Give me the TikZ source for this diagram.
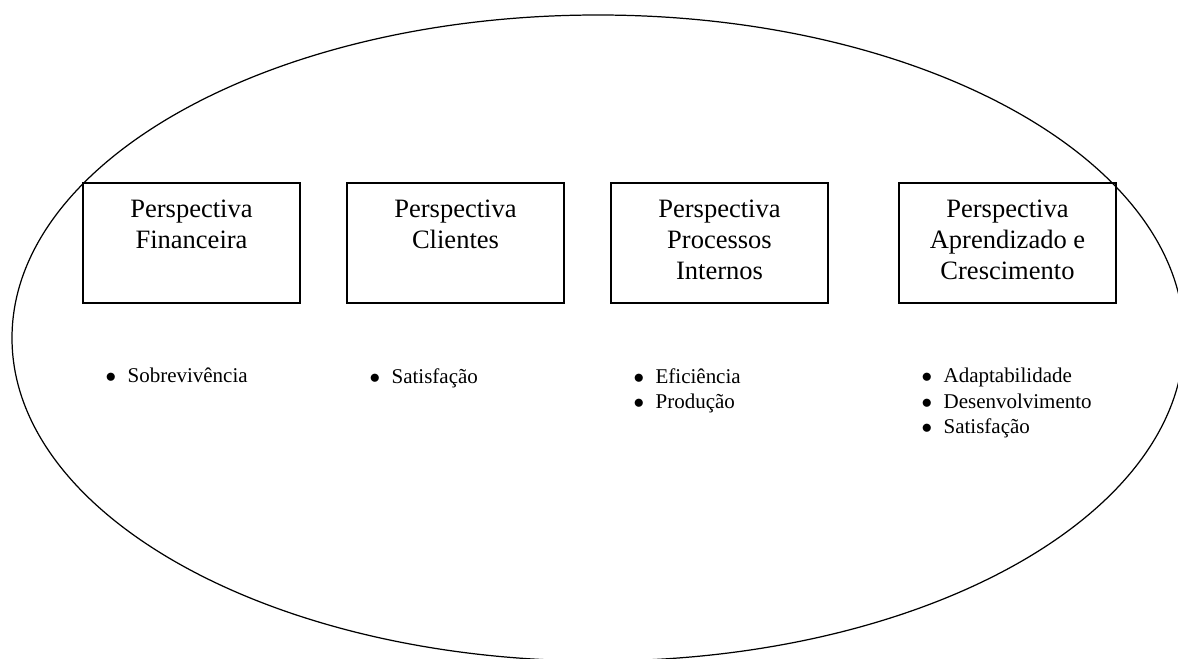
\documentclass[tikz,border=0pt]{standalone}
\usepackage{fontspec}
\setmainfont{Liberation Serif}
\newcommand{\bitem}[1]{\makebox[0.44cm][l]{$\bullet$}#1}
\begin{document}
\begin{tikzpicture}[x=0.02cm, y=-0.02cm, line width=.7pt,
  perspbox/.style={draw, line width=.8pt, minimum width=4.34cm, minimum height=2.4cm, inner sep=0pt},
  boxtext/.style={align=center, inner sep=0pt, anchor=north, font=\fontsize{15.1}{17.6}\selectfont},
  itemlist/.style={align=left, inner sep=0pt, anchor=north west, font=\fontsize{11.95}{14.4}\selectfont}]
\useasboundingbox (0,0) rectangle (1178,659);
\draw (598,338) ellipse [x radius=586, y radius=323];

\node[perspbox] (fin) at (191.5,243) {};
\node[perspbox] (cli) at (455.5,243) {};
\node[perspbox] (proc) at (719.5,243) {};
\node[perspbox] (apr) at (1007.5,243) {};

\node[boxtext] (fintext) at ([yshift=-0.35cm]fin.north) {Perspectiva\\Financeira};
\node[boxtext] (clitext) at ([yshift=-0.35cm]cli.north) {Perspectiva\\Clientes};
\node[boxtext] (proctext) at ([yshift=-0.35cm]proc.north) {Perspectiva\\Processos\\Internos};
\node[boxtext] (aprtext) at ([yshift=-0.35cm]apr.north) {Perspectiva\\Aprendizado e\\Crescimento};

\node[itemlist] (finlist) at (105,367.6) {\bitem{Sobrevivência}};
\node[itemlist] (clilist) at (369,367.6) {\bitem{Satisfação}};
\node[itemlist] (proclist) at (633,367.6) {\bitem{Eficiência}\\\bitem{Produção}};
\node[itemlist] (aprlist) at (921,367.6) {\bitem{Adaptabilidade}\\\bitem{Desenvolvimento}\\\bitem{Satisfação}};
\end{tikzpicture}
\end{document}
